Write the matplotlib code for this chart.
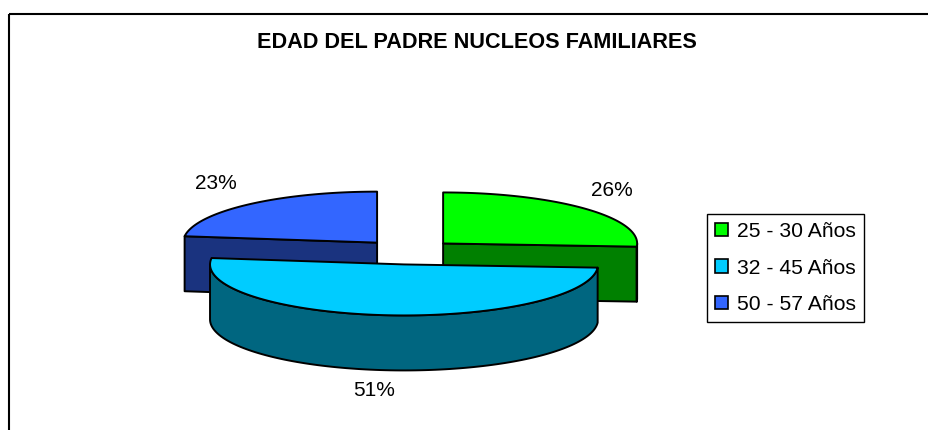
#!/usr/bin/python3

import matplotlib.pyplot as plt
import numpy as np
from matplotlib.patches import Patch, Polygon, Rectangle

plt.rcParams['font.family'] = ['Liberation Sans', 'DejaVu Sans']

labels = ['25 - 30 Años', '32 - 45 Años', '50 - 57 Años']
values = [26, 51, 23]
colors = ['#00FF00', '#00CCFF', '#3366FF']
dark_colors = ['#008000', '#006680', '#1A337F']
title = 'EDAD DEL PADRE NUCLEOS FAMILIARES'

# pie geometry, in pixels
cx, cy = 408.5, 252
a, b = 194, 51
depth = 55
explode = 47.5
label_pos = [(612, 190.5), (216, 183.5), (374, 391)]
label_order = [0, 2, 1]

fig = plt.figure(figsize=(9.29, 4.3), dpi=100)
ax = fig.add_axes([0, 0, 1, 1])
ax.set_xlim(0, 929)
ax.set_ylim(430, 0)
ax.axis('off')


def arc(x0, y0, t1, t2):
    t = np.radians(np.linspace(t1, t2, 120))
    return np.column_stack([x0 + a * np.cos(t), y0 - b * np.sin(t)])


def draw_slice(start, stop, color, dark, z):
    mid = np.radians((start + stop) / 2)
    x0 = cx + explode * np.cos(mid)
    y0 = cy - explode * b / a * np.sin(mid)
    apex = np.array([[x0, y0]])
    down = np.array([0, depth])
    kw = dict(edgecolor='black', linewidth=1.4, joinstyle='round', zorder=z)
    # cut faces, only the ones turned towards the viewer
    show_start = np.cos(np.radians(start)) < -1e-6
    show_stop = np.cos(np.radians(stop)) > 1e-6
    for t, show in ((start, show_start), (stop, show_stop)):
        if show:
            end = arc(x0, y0, t, t)[:1]
            face = np.vstack([apex, end, end + down, apex + down])
            ax.add_patch(Polygon(face, facecolor=dark, **kw))
    # outer wall, front half of the ellipse only
    lo, hi = max(stop, -180), min(start, 0)
    if hi > lo:
        top = arc(x0, y0, lo, hi)
        ax.add_patch(Polygon(np.vstack([top, top[::-1] + down]), facecolor=dark, **kw))
    rim = arc(x0, y0, start, stop)
    ax.add_patch(Polygon(np.vstack([apex, rim]), facecolor=color, **kw))


fractions = np.array(values) / sum(values)
angles = 90 - 360 * np.concatenate([[0], np.cumsum(fractions)])

for i in [2, 0, 1]:
    draw_slice(angles[i], angles[i + 1], colors[i], dark_colors[i], 10 if i == 1 else 2 + i)

for pos, i in zip(label_pos, label_order):
    ax.text(pos[0], pos[1], str(values[i]) + '%', fontsize=15,
            ha='center', va='center', color='black', zorder=20)

ax.text(477, 43, title, fontsize=15.6, fontweight='bold', ha='center', va='center')

ax.add_patch(Rectangle((9, 14), 960, 460, facecolor='none', edgecolor='black', linewidth=1.5, zorder=1))

handles = [Patch(facecolor=colors[i], edgecolor='black', linewidth=1.2, label=labels[i])
           for i in range(len(labels))]
ax.legend(handles=handles, loc='center left', bbox_to_anchor=(707, 268), bbox_transform=ax.transData,
          fontsize=15.2, frameon=True, fancybox=False, edgecolor='black', framealpha=1,
          handlelength=0.6, handleheight=0.6, handletextpad=0.4, labelspacing=0.83, borderpad=0.4,
          borderaxespad=0)

plt.savefig('out.png', dpi=100)
